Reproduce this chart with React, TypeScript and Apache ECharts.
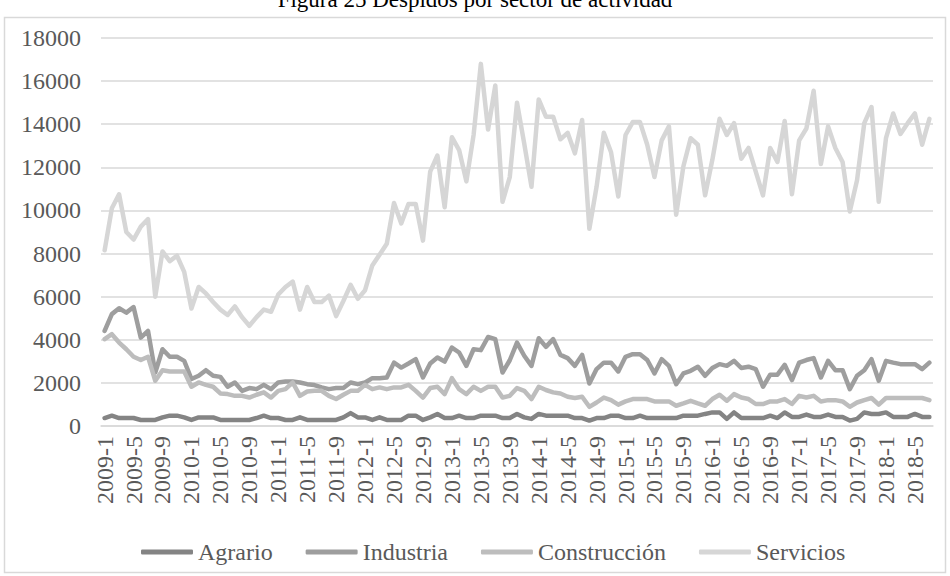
import React, { useEffect, useRef } from "react";
import * as echarts from "echarts";

const TITLE = "Figura 25 Despidos por sector de actividad";

const START_YEAR = 2009;
const N_MONTHS = 115; // 2009-1 .. 2018-7
const categories: string[] = [];
for (let i = 0; i < N_MONTHS; i++) {
  const y = START_YEAR + Math.floor(i / 12);
  const m = (i % 12) + 1;
  categories.push(`${y}-${m}`);
}

const yTicks = [0, 2000, 4000, 6000, 8000, 10000, 12000, 14000, 16000, 18000];

const agrario = [
  370, 480, 370, 370, 370, 280, 280, 280, 400, 480, 480, 400,
  280, 400, 400, 400, 280, 280, 280, 280, 280, 370, 480, 370,
  370, 280, 280, 400, 280, 280, 280, 280, 280, 400, 600, 400,
  400, 280, 400, 280, 280, 280, 480, 480, 280, 400, 560, 370,
  370, 480, 370, 370, 480, 480, 480, 370, 370, 560, 400, 330,
  560, 480, 480, 480, 480, 370, 370, 250, 370, 370, 480, 480,
  370, 370, 480, 370, 370, 370, 370, 370, 480, 480, 480, 560,
  630, 630, 330, 630, 370, 370, 370, 370, 480, 370, 630, 420,
  420, 530, 420, 420, 530, 420, 420, 250, 330, 630, 560, 560,
  630, 420, 420, 420, 560, 420, 420,
];

const industria = [
  4410, 5190, 5460, 5260, 5520, 4100, 4410, 2480, 3560, 3210, 3210, 3020,
  2180, 2330, 2590, 2330, 2280, 1820, 2020, 1630, 1760, 1710, 1910, 1710,
  2020, 2060, 2060, 2020, 1940, 1900, 1790, 1710, 1760, 1760, 2020, 1940,
  2020, 2220, 2220, 2250, 2940, 2710, 2900, 3100, 2250, 2900, 3180, 2990,
  3640, 3410, 2790, 3560, 3520, 4130, 4030, 2480, 3050, 3870, 3260, 2790,
  4070, 3670, 4030, 3300, 3150, 2790, 3300, 1970, 2640, 2940, 2940, 2530,
  3210, 3330, 3330, 3060, 2440, 3100, 2790, 1940, 2440, 2560, 2750, 2330,
  2690, 2870, 2790, 3020, 2690, 2750, 2640, 1820, 2380, 2380, 2840, 2130,
  2940, 3060, 3150, 2250, 3020, 2590, 2590, 1710, 2330, 2590, 3100, 2100,
  3020, 2940, 2870, 2870, 2870, 2640, 2940,
];

const construccion = [
  4030, 4260, 3870, 3560, 3210, 3060, 3210, 2100, 2590, 2530, 2530, 2530,
  1820, 2020, 1910, 1820, 1510, 1480, 1400, 1400, 1320, 1450, 1560, 1320,
  1630, 1710, 2020, 1400, 1600, 1630, 1630, 1400, 1250, 1450, 1630, 1630,
  1910, 1710, 1790, 1710, 1790, 1790, 1910, 1630, 1320, 1760, 1820, 1480,
  2220, 1710, 1480, 1820, 1630, 1820, 1820, 1320, 1400, 1760, 1630, 1250,
  1820, 1670, 1560, 1510, 1360, 1300, 1360, 890, 1090, 1320, 1200, 990,
  1140, 1250, 1250, 1250, 1140, 1140, 1140, 940, 1050, 1170, 1050, 940,
  1250, 1450, 1170, 1480, 1320, 1250, 1020, 1020, 1140, 1140, 1250, 1020,
  1400, 1320, 1400, 1140, 1200, 1200, 1140, 890, 1090, 1200, 1300, 990,
  1300, 1300, 1300, 1300, 1300, 1300, 1200,
];

const servicios = [
  8150, 10100, 10750, 9000, 8650, 9250, 9600, 6000, 8100, 7650, 7900, 7150,
  5450, 6450, 6150, 5750, 5400, 5150, 5550, 5050, 4650, 5050, 5400, 5300,
  6100, 6450, 6700, 5400, 6450, 5750, 5750, 6050, 5100, 5800, 6550, 5900,
  6300, 7450, 7950, 8450, 10350, 9400, 10300, 10300, 8600, 11800, 12550, 10150,
  13400, 12800, 11350, 13500, 16800, 13750, 15800, 10400, 11550, 15000, 13100, 11100,
  15150, 14350, 14350, 13300, 13600, 12650, 14200, 9150, 11100, 13600, 12700, 10650,
  13500, 14100, 14100, 13050, 11550, 13250, 13900, 9800, 12050, 13350, 13050, 10700,
  12350, 14250, 13500, 14050, 12400, 12900, 11800, 10700, 12900, 12250, 14150, 10750,
  13250, 13800, 15550, 12150, 13900, 12900, 12250, 9950, 11400, 14050, 14800, 10400,
  13350, 14500, 13550, 14050, 14500, 13050, 14250,
];

const seriesNames = ["Agrario", "Industria", "Construcción", "Servicios"];
const seriesColors = ["#848484", "#9e9e9e", "#bdbdbd", "#d6d6d6"];
const seriesData = [agrario, industria, construccion, servicios];

const FONT = '"Liberation Serif", "Times New Roman", serif';

export default function App() {
  const ref = useRef<HTMLDivElement>(null);

  useEffect(() => {
    if (!ref.current) return;
    const chart = echarts.init(ref.current, null, { renderer: "svg" });
    chart.setOption({
      animation: false,
      backgroundColor: "#ffffff",
      textStyle: { fontFamily: FONT },
      graphic: [
        {
          type: "rect",
          shape: { x: 4.5, y: 17.5, width: 941, height: 555 },
          style: { fill: "none", stroke: "#d9d9d9", lineWidth: 1.5 },
          silent: true,
        },
        {
          type: "text",
          x: 475,
          y: -1,
          style: {
            text: TITLE,
            fontFamily: FONT,
            fontSize: 23,
            fill: "#000000",
            align: "center",
            verticalAlign: "middle",
          },
        },
      ],
      grid: { left: 101, right: 17, top: 38, bottom: 150, containLabel: false },
      legend: {
        data: seriesNames.map((n) => ({ name: n, icon: "roundRect" })),
        left: 136,
        top: 535,
        itemWidth: 52,
        itemHeight: 5,
        itemGap: 33,
        textStyle: { fontFamily: FONT, fontSize: 24, color: "#595959" },
      },
      xAxis: {
        type: "category",
        data: categories,
        boundaryGap: true,
        axisLine: { show: true, lineStyle: { color: "#d9d9d9", width: 1.5 } },
        axisTick: { show: false },
        axisLabel: {
          rotate: 90,
          interval: 3,
          margin: 10,
          fontFamily: FONT,
          fontSize: 24,
          color: "#595959",
        },
      },
      yAxis: {
        type: "value",
        min: yTicks[0],
        max: yTicks[yTicks.length - 1],
        interval: yTicks[1] - yTicks[0],
        axisLine: { show: false },
        axisTick: { show: false },
        splitLine: { lineStyle: { color: "#d9d9d9", width: 1.5 } },
        axisLabel: {
          margin: 20,
          fontFamily: FONT,
          fontSize: 24,
          color: "#595959",
          formatter: (v: number) => String(v),
        },
      },
      series: seriesNames.map((name, k) => ({
        name,
        type: "line",
        data: seriesData[k],
        showSymbol: false,
        symbol: "none",
        color: seriesColors[k],
        lineStyle: { color: seriesColors[k], width: 4.5, cap: "round", join: "round" },
      })),
    });
    return () => chart.dispose();
  }, []);

  return (
    <div
      ref={ref}
      style={{ position: "fixed", left: 0, top: 0, width: 950, height: 576, background: "#fff" }}
    />
  );
}
